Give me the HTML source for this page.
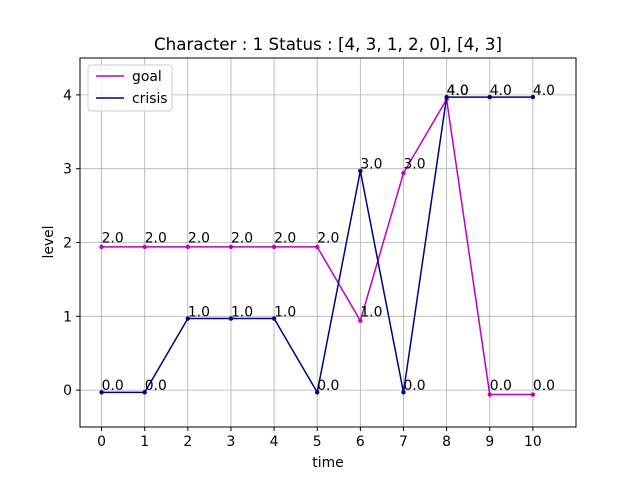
<!DOCTYPE html>
<html><head><meta charset="utf-8"><style>
body{margin:0;background:#fff}
svg{display:block;font-family:"DejaVu Sans","Liberation Sans",sans-serif}
</style></head><body>
<svg id="chart" width="640" height="480">
<rect width="640" height="480" fill="#fff"/>
<text x="328" y="50" text-anchor="middle" font-size="16.7">Character : 1 Status : [4, 3, 1, 2, 0], [4, 3]</text>
<g id="grid"></g><g id="series"></g>
<rect x="80" y="58" width="496" height="369" fill="none" stroke="#000" stroke-width="1"/>
<g id="ticks" font-size="13.9"></g>
<text x="328" y="467" text-anchor="middle" font-size="13.9">time</text>
<text transform="translate(53,242) rotate(-90)" text-anchor="middle" font-size="13.9">level</text>
<g>
<rect x="88" y="65" width="84" height="46" rx="3" fill="#fff" fill-opacity="0.8" stroke="#ccc"/>
<g><line x1="96" y1="76" x2="124" y2="76" stroke="#bf00bf" stroke-width="1.5"/><text x="132" y="81" font-size="13.9">goal</text></g>
<g><line x1="96" y1="98" x2="124" y2="98" stroke="#000080" stroke-width="1.5"/><text x="132" y="103" font-size="13.9">crisis</text></g>
</g>
</svg>
<script>
const times=[0,1,2,3,4,5,6,7,8,9,10];
const goalValues=[2,2,2,2,2,2,1,3,4,0,0];
const crisisValues=[0,0,1,1,1,0,3,0,4,4,4];
const xTicks=[0,1,2,3,4,5,6,7,8,9,10];
const yTicks=[0,1,2,3,4];
const goalOffset=-0.06, crisisOffset=-0.03;
const NS="http://www.w3.org/2000/svg";
const X0=80,X1=576,Y0=427,Y1=58,xmin=-0.5,xmax=11,ymin=-0.5,ymax=4.5;
const sx=v=>X0+(v-xmin)/(xmax-xmin)*(X1-X0);
const sy=v=>Y0-(v-ymin)/(ymax-ymin)*(Y0-Y1);
function mk(tag,attrs,parent){const e=document.createElementNS(NS,tag);for(const k in attrs)e.setAttribute(k,attrs[k]);parent.appendChild(e);return e;}
const grid=document.getElementById('grid'),ticks=document.getElementById('ticks'),ser=document.getElementById('series');
xTicks.forEach(t=>{const x=sx(t);
const g=mk('line',{x1:x,x2:x,y1:Y1,y2:Y0,stroke:'#b0b0b0','stroke-width':0.8},grid);


mk('line',{x1:x,x2:x,y1:Y0,y2:Y0+4,stroke:'#000'},ticks);
const l=mk('text',{x:x,y:Y0+19,'text-anchor':'middle'},ticks);l.textContent=t;

});
yTicks.forEach(t=>{const y=sy(t);
const g=mk('line',{x1:X0,x2:X1,y1:y,y2:y,stroke:'#b0b0b0','stroke-width':0.8},grid);


mk('line',{x1:X0-4,x2:X0,y1:y,y2:y,stroke:'#000'},ticks);
const l=mk('text',{x:X0-8,y:y+5,'text-anchor':'end'},ticks);l.textContent=t;

});
function series(vals,off,color,name){
const pts=times.map((t,i)=>sx(t)+','+sy(vals[i]+off)).join(' ');
const pl=mk('polyline',{points:pts,fill:'none',stroke:color,'stroke-width':1.5},ser);


times.forEach((t,i)=>{const c=mk('circle',{cx:sx(t),cy:sy(vals[i]+off),r:2.2,fill:color},ser);


const a=mk('text',{x:sx(t),y:sy(vals[i]),'font-size':13.9},ser);a.textContent=vals[i].toFixed(1);

});}
series(goalValues,goalOffset,'#bf00bf','goal');
series(crisisValues,crisisOffset,'#000080','crisis');
</script>
</body></html>
